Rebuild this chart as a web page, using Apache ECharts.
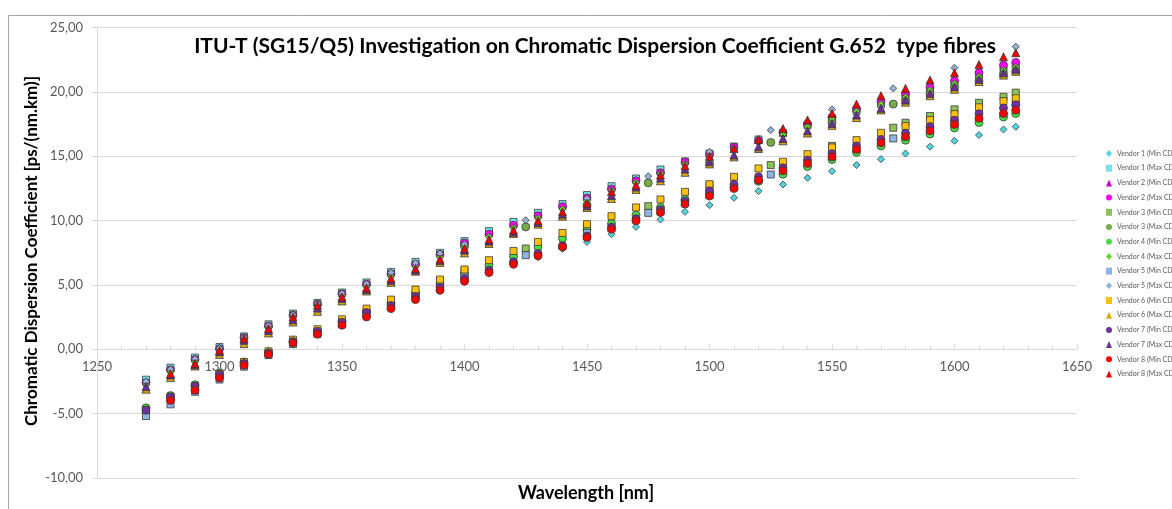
<!DOCTYPE html>
<html>
<head>
<meta charset="utf-8">
<script src="https://cdn.jsdelivr.net/npm/echarts@6/dist/echarts.min.js"></script>
<style>html,body{margin:0;padding:0;background:#fff}#c{width:1172px;height:509px}</style>
</head>
<body>
<div id="c"></div>
<script>
// ---- data (wavelength in nm, CD in ps/(nm.km)) ----
const wlGrid = [1270,1280,1290,1300,1310,1320,1330,1340,1350,1360,1370,1380,1390,1400,1410,1420,1430,1440,1450,1460,1470,1480,1490,1500,1510,1520,1530,1540,1550,1560,1570,1580,1590,1600,1610,1620,1625];
const wlV5 = [1270,1280,1290,1300,1310,1320,1330,1340,1350,1360,1370,1380,1390,1400,1425,1450,1475,1500,1525,1550,1575,1600,1625];
const wlV3 = [1400,1425,1450,1475,1500,1525,1550,1575,1580,1590,1600,1610,1620,1625];

const v1Min = [-4.9,-4.0,-3.1,-2.2,-1.3,-0.45,0.42,1.15,1.9,2.6,3.2,3.85,4.55,5.25,5.9,6.55,7.15,7.8,8.34,8.94,9.51,10.08,10.68,11.2,11.77,12.29,12.8,13.32,13.84,14.31,14.77,15.21,15.74,16.2,16.64,17.08,17.29];
const v1Max = [-2.36,-1.43,-0.65,0.18,1.0,1.94,2.77,3.6,4.41,5.19,6.01,6.79,7.49,8.4,9.18,9.9,10.6,11.28,11.98,12.67,13.27,13.97,14.6,15.2,15.75,16.3,16.8,17.4,17.95,18.5,19.05,19.6,20.1,20.6,21.1,21.7,21.95];
const v2Min = [-4.6,-3.65,-2.8,-1.9,-1.05,-0.25,0.6,1.4,2.1,2.85,3.45,4.15,4.85,5.55,6.27,6.92,7.57,8.1,8.85,9.5,10.15,10.8,11.45,12.05,12.65,13.25,13.9,14.5,15.05,15.65,16.15,16.65,17.15,17.65,18.15,18.6,18.85];
const v2Max = [-2.6,-1.6,-0.8,0.05,0.9,1.8,2.65,3.5,4.3,5.05,5.85,6.6,7.35,8.25,8.94,9.64,10.37,11.07,11.75,12.45,13.09,13.71,14.55,15.15,15.7,16.2,16.84,17.5,18.01,18.64,19.23,19.83,20.35,20.86,21.48,22.08,22.29];
const v3Min = [6.1,7.83,9.5,11.12,12.75,14.31,15.8,17.21,17.6,18.12,18.64,19.15,19.62,19.94];
const v3Max = [8.0,9.51,11.2,12.93,14.5,16.07,17.6,19.05,19.3,19.85,20.35,20.85,21.35,21.6];
const v4Min = [-4.55,-3.6,-2.75,-1.85,-1.0,-0.2,0.65,1.45,2.2,2.95,3.6,4.35,5.1,5.85,6.53,7.23,7.95,8.61,9.31,9.77,10.42,11.02,11.64,12.1,12.6,13.05,13.6,14.2,14.75,15.3,15.8,16.25,16.72,17.2,17.62,18.05,18.32];
const v4Max = [-2.7,-1.75,-0.95,0.0,0.85,1.7,2.58,3.45,4.2,4.9,5.7,6.45,7.2,8.0,8.75,9.45,10.2,10.9,11.55,12.35,12.95,13.65,14.4,15.05,15.6,16.15,16.7,17.3,17.9,18.5,19.05,19.6,20.15,20.65,21.2,21.7,21.95];
const v5Min = [-5.19,-4.28,-3.3,-2.35,-1.35,-0.45,0.4,1.2,1.95,2.7,3.5,4.28,5.03,5.68,7.31,9.04,10.6,12.2,13.58,15.1,16.38,17.8,19.1];
const v5Max = [-2.5,-1.55,-0.75,0.1,0.95,1.85,2.7,3.55,4.35,5.1,5.95,6.7,7.45,8.16,10.03,11.72,13.45,15.34,17.03,18.64,20.27,21.87,23.51];
const v6Min = [-4.7,-3.7,-2.85,-1.9,-0.98,-0.16,0.75,1.56,2.33,3.16,3.86,4.64,5.42,6.2,6.92,7.64,8.34,9.04,9.72,10.34,11.02,11.64,12.23,12.83,13.4,14.05,14.57,15.16,15.68,16.25,16.82,17.34,17.81,18.27,18.8,19.28,19.5];
const v6Max = [-3.1,-2.2,-1.3,-0.4,0.44,1.27,2.12,2.95,3.76,4.53,5.2,6.07,6.75,7.49,8.22,9.0,9.72,10.34,11.02,11.72,12.42,13.09,13.75,14.4,14.95,15.6,16.2,16.8,17.4,18.0,18.6,19.2,19.7,20.2,20.8,21.3,21.6];
const v7Min = [-4.74,-3.7,-2.88,-1.97,-1.1,-0.28,0.6,1.4,2.1,2.85,3.4,4.1,4.8,5.5,6.15,6.8,7.45,8.05,8.8,9.5,10.15,10.85,11.5,12.31,12.83,13.4,14.1,14.7,15.2,15.8,16.3,16.8,17.3,17.8,18.3,18.75,19.0];
const v7Max = [-2.9,-2.0,-1.2,-0.2,0.7,1.45,2.3,3.2,3.95,4.65,5.35,6.15,6.9,7.7,8.4,9.1,9.85,10.5,11.15,11.95,12.6,13.3,14.0,14.57,15.09,15.73,16.38,16.98,17.55,18.2,18.72,19.36,19.88,20.39,20.97,21.48,21.75];
const v8Min = [null,-3.97,-3.19,-2.23,-1.24,-0.39,0.49,1.17,1.87,2.51,3.16,3.86,4.59,5.29,5.96,6.61,7.26,7.95,8.69,9.33,9.98,10.63,11.28,11.9,12.49,13.14,13.87,14.44,14.95,15.53,16.04,16.51,16.98,17.47,17.94,18.32,18.58];
const v8Max = [null,-1.9,-1.1,-0.08,0.83,1.61,2.51,3.42,4.07,4.77,5.5,6.27,7.0,7.83,8.53,9.25,9.98,10.68,11.35,12.23,12.75,13.53,14.25,15.0,15.6,16.3,17.15,17.81,18.32,19.05,19.7,20.27,20.92,21.48,22.12,22.73,23.04];

const xTicks = [1250,1300,1350,1400,1450,1500,1550,1600,1650];
const yTicks = [-10,-5,0,5,10,15,20,25];

const seriesDefs = [
  ['Vendor 1 (Min CD)', wlGrid, v1Min, 'diamond', 7, '#4fd6e0'],
  ['Vendor 1 (Max CD)', wlGrid, v1Max, 'rect', 7, '#6fe4ea'],
  ['Vendor 2 (Min CD)', wlGrid, v2Min, 'triangle', 8, '#cc00cc'],
  ['Vendor 2 (Max CD)', wlGrid, v2Max, 'circle', 8, '#ff00ff'],
  ['Vendor 3 (Min CD)', wlV3, v3Min, 'rect', 7, '#8cc255'],
  ['Vendor 3 (Max CD)', wlV3, v3Max, 'circle', 8, '#7aaa48'],
  ['Vendor 4 (Min CD)', wlGrid, v4Min, 'circle', 8, '#44dd44'],
  ['Vendor 4 (Max CD)', wlGrid, v4Max, 'diamond', 7, '#66d92a'],
  ['Vendor 5 (Min CD)', wlV5, v5Min, 'rect', 7, '#8db4e2'],
  ['Vendor 5 (Max CD)', wlV5, v5Max, 'diamond', 7, '#95b3d7'],
  ['Vendor 6 (Min CD)', wlGrid, v6Min, 'rect', 7, '#ffc000'],
  ['Vendor 6 (Max CD)', wlGrid, v6Max, 'triangle', 8, '#e0a800'],
  ['Vendor 7 (Min CD)', wlGrid, v7Min, 'circle', 8, '#7030a0'],
  ['Vendor 7 (Max CD)', wlGrid, v7Max, 'triangle', 8, '#6a2c96'],
  ['Vendor 8 (Min CD)', wlGrid, v8Min, 'circle', 8, '#ff0000'],
  ['Vendor 8 (Max CD)', wlGrid, v8Max, 'triangle', 8, '#ee0000']
];

const FONT = 'Lato, "Open Sans", sans-serif';
const series = seriesDefs.map(([name, xs, ys, sym, size, color]) => ({
  name: name,
  type: 'scatter',
  symbol: sym,
  symbolSize: size,
  itemStyle: { color: color, borderColor: '#3a3a3a', borderWidth: 0.8, opacity: 1 },
  emphasis: { disabled: true },
  data: xs.map((x, i) => [x, ys[i]]).filter(p => p[1] !== null)
}));

// grid geometry; the x axis is drawn where y = 0, like the original
const H = 509, gridTop = 27.5, gridBottom = 31;
const yMin = yTicks[0], yMax = yTicks[yTicks.length - 1];
const plotH = H - gridTop - gridBottom;
const xAxisOffset = -plotH * (0 - yMin) / (yMax - yMin);

const chart = echarts.init(document.getElementById('c'), null, { renderer: 'canvas' });
chart.setOption({
  animation: false,
  backgroundColor: '#ffffff',
  title: {
    text: 'ITU-T (SG15/Q5) Investigation on Chromatic Dispersion Coefficient G.652  type fibres',
    left: 590, top: 31, textAlign: 'center',
    textStyle: { fontFamily: FONT, fontWeight: 'bold', fontSize: 21, color: '#000' }
  },
  legend: {
    orient: 'vertical',
    left: 1101, top: 145,
    itemWidth: 6, itemHeight: 7, itemGap: 7.7,
    itemStyle: { borderWidth: 0 },
    textStyle: { fontFamily: FONT, fontSize: 7, color: '#595959', lineHeight: 7 },
    data: seriesDefs.map(d => d[0])
  },
  grid: { left: 97, right: 95, top: gridTop, bottom: gridBottom, containLabel: false },
  xAxis: {
    type: 'value', min: xTicks[0], max: xTicks[xTicks.length - 1], interval: 50,
    offset: xAxisOffset,
    axisLine: { onZero: false, lineStyle: { color: '#d9d9d9', width: 1 } },
    axisTick: { show: true, inside: true, length: 5, lineStyle: { color: '#d9d9d9' } },
    minorTick: { show: true, splitNumber: 5, length: 4, lineStyle: { color: '#d9d9d9' } },
    splitLine: { show: false },
    axisLabel: { fontFamily: FONT, fontSize: 13, color: '#595959', margin: 11,
      formatter: v => String(v) }
  },
  yAxis: {
    type: 'value', min: yMin, max: yMax, interval: 5,
    axisLine: { show: true, onZero: false, lineStyle: { color: '#d9d9d9', width: 1 } },
    axisTick: { show: true, length: 5, lineStyle: { color: '#d9d9d9' } },
    splitLine: { show: true, lineStyle: { color: '#d9d9d9', width: 1 } },
    axisLabel: { fontFamily: FONT, fontSize: 13, color: '#595959', margin: 14,
      formatter: v => v.toFixed(2).replace('.', ',') }
  },
  graphic: [
    { type: 'rect', shape: { x: 8.5, y: 15.5, width: 1300, height: 700 }, style: { fill: 'none', stroke: '#a6a6a6', lineWidth: 1 }, silent: true, z: -1 },
    { type: 'text', x: 586, y: 493, style: { text: 'Wavelength [nm]', fontFamily: FONT, fontWeight: 'bold', fontSize: 18, fill: '#000', textAlign: 'center', textVerticalAlign: 'middle' } },
    { type: 'text', x: 32, y: 251, rotation: Math.PI / 2, style: { text: 'Chromatic Dispersion Coefficient [ps/(nm.km)]', fontFamily: FONT, fontWeight: 'bold', fontSize: 17, fill: '#000', textAlign: 'center', textVerticalAlign: 'middle' } }
  ],
  series: series
});
</script>
</body>
</html>
